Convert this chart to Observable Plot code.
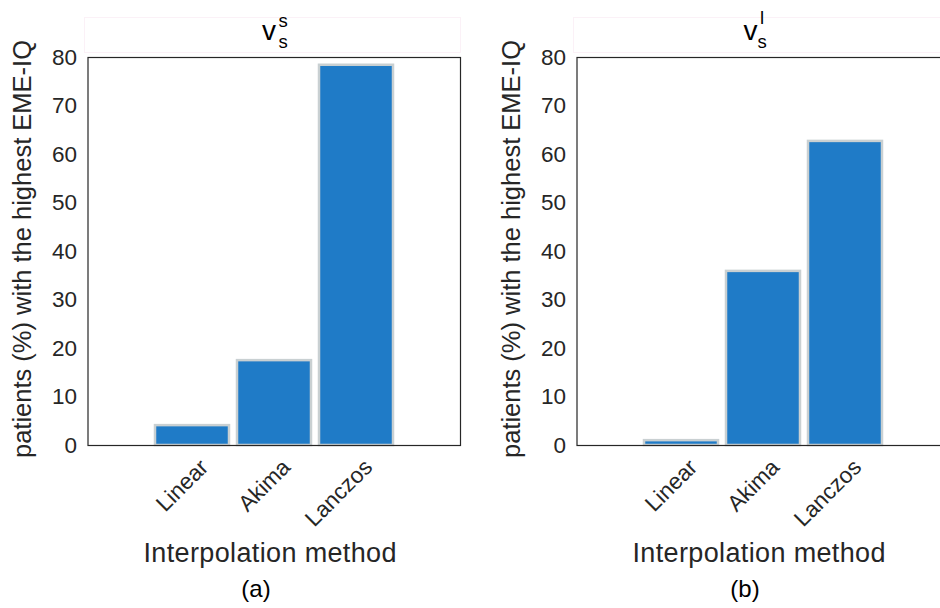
<!DOCTYPE html>
<html>
<head>
<meta charset="utf-8">
<script src="https://cdn.jsdelivr.net/npm/d3@7"></script>
<script src="https://cdn.jsdelivr.net/npm/@observablehq/plot@0.6"></script>
<style>
  html, body { margin: 0; padding: 0; background: #fff; }
  #fig { position: relative; width: 940px; height: 608px; overflow: hidden; background: #fff;
         font-family: "Liberation Sans", Arial, Helvetica, sans-serif; }
  .panel { position: absolute; top: 0; width: 470px; height: 608px; }
  .panel svg { max-width: none !important; }
  #overlay { position: absolute; left: 0; top: 0; pointer-events: none; }
</style>
</head>
<body>
<div id="fig">
  <div id="pa" class="panel" style="left:0px"></div>
  <div id="pb" class="panel" style="left:489px"></div>
</div>
<script>
// ---- data ----
const categories = ["Linear", "Akima", "Lanczos"];
const valuesSmall = [4.1, 17.5, 78.4];   // panel (a): v_s^s
const valuesLarge = [1.0, 35.9, 62.7];   // panel (b): v_s^l
const yTicks = [0, 10, 20, 30, 40, 50, 60, 70, 80];
const yLabel = "patients (%) with the highest EME-IQ";
const xLabel = "Interpolation method";
const panelTags = ["(a)", "(b)"];

const FONT = '"Liberation Sans", Arial, Helvetica, sans-serif';
const BAR_FILL = "#1f7bc7";
const BAR_EDGE = "#c9d0d2";
const AXIS = "#262626";

function panel(values) {
  const data = categories.map((c, i) => ({method: c, value: values[i]}));
  return Plot.plot({
    width: 470,
    height: 608,
    marginLeft: 87.5,
    marginRight: 10,
    marginTop: 57,
    marginBottom: 163,
    style: {fontFamily: FONT, fontSize: "22px", color: AXIS, background: "transparent", overflow: "visible", maxWidth: "none"},
    x: {type: "band", domain: categories, paddingInner: 0.1, paddingOuter: 0.8, align: 0.5},
    y: {domain: [0, 80]},
    marks: [
      Plot.barY(data, {x: "method", y: "value", fill: BAR_FILL, stroke: BAR_EDGE, strokeWidth: 2.5}),
      Plot.frame({stroke: AXIS, strokeWidth: 1.2}),
      Plot.axisY({ticks: yTicks, tickSize: 0, tickPadding: 11, fontSize: 22.5, label: null, fill: AXIS}),
      Plot.axisX({tickRotate: -45, tickSize: 0, tickPadding: 18, dx: 12, fontSize: 22.5, label: null, fill: AXIS})
    ]
  });
}

document.getElementById("pa").appendChild(panel(valuesSmall));
document.getElementById("pb").appendChild(panel(valuesLarge));

// ---- annotation text (titles, axis titles, panel tags) ----
const svg = d3.select("#fig").append("svg")
  .attr("id", "overlay").attr("width", 940).attr("height", 608)
  .style("font-family", FONT).attr("fill", "#000");

const offsets = [0, 489];
offsets.forEach((ox, i) => {
  // faint title box
  svg.append("rect").attr("x", ox + 84.5).attr("y", 17.5).attr("width", 376).attr("height", 35)
    .attr("fill", "none").attr("stroke", "#fbf1f7");
  // y-axis title
  svg.append("text")
    .attr("transform", `translate(${ox + 31},249) rotate(-90)`)
    .attr("text-anchor", "middle").attr("font-size", 25.5).attr("fill", "#262626")
    .attr("textLength", 418).attr("lengthAdjust", "spacing")
    .text(yLabel);
  // x-axis title
  svg.append("text")
    .attr("x", ox + 270).attr("y", 562)
    .attr("text-anchor", "middle").attr("font-size", 27).attr("fill", "#262626")
    .attr("textLength", 253).attr("lengthAdjust", "spacing")
    .text(xLabel);
  // panel tag
  svg.append("text")
    .attr("x", ox + 256).attr("y", 597)
    .attr("text-anchor", "middle").attr("font-size", 24).attr("fill", "#000")
    .text(panelTags[i]);
});

// titles v_s^s and v_s^l, each as a single text element with tspans
function title(xv, supText, supX, supY, subX) {
  const t = svg.append("text").attr("x", xv).attr("y", 40).attr("font-size", 28);
  t.append("tspan").text("v");
  t.append("tspan").attr("x", supX).attr("y", supY).attr("font-size", 18.5).text(supText);
  t.append("tspan").attr("x", subX).attr("y", 47.5).attr("font-size", 18.5).text("s");
}
title(262, "s", 278.5, 27, 278.5);
title(743.5, "l", 760, 23.5, 757.5);
</script>
</body>
</html>
